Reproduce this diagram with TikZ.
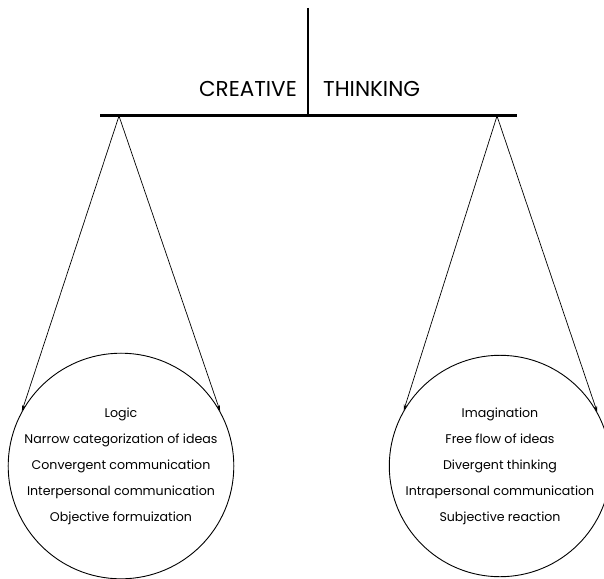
\documentclass[tikz,border=0pt]{standalone}
\usepackage{fontspec}
\setmainfont{Poppins}
\usetikzlibrary{arrows.meta,positioning}

\begin{document}
\begin{tikzpicture}[
    x=1pt, y=-1pt,
    title/.style={font=\fontsize{21.5}{22}\selectfont, inner sep=0pt},
    pan/.style={circle, draw, line width=0.9pt, minimum size=220pt, inner sep=0pt,
                align=center, font=\fontsize{12.6}{26}\selectfont},
    arr/.style={-{Stealth[length=6pt,width=3.5pt]}, line width=0.7pt}
]
\useasboundingbox (0,0) rectangle (604,578);

% beam and post
\coordinate (top) at (308,8);
\coordinate (mid) at (308,115);
\coordinate (bl) at (100,115);
\coordinate (br) at (517,115);
\draw[line width=2.6pt] (top) -- (mid);
\draw[line width=3pt] (bl) -- (br);

\node[title, anchor=base east] (creative) at (297,96) {CREATIVE};
\node[title, anchor=base west] (thinking) at (323,96) {THINKING};

% hanging points
\coordinate (pl) at (119,116);
\coordinate (pr) at (497,116);

% the two pans
\node[pan] (left) at (121,466) {Logic\\Narrow categorization of ideas\\Convergent communication\\Interpersonal communication\\Objective formuization};
\node[pan] (right) at (500,466) {Imagination\\Free flow of ideas\\Divergent thinking\\Intrapersonal communication\\Subjective reaction};

\draw[arr] (pl) -- (left.151);
\draw[arr] (pl) -- (left.29);
\draw[arr] (pr) -- (right.150);
\draw[arr] (pr) -- (right.29);
\end{tikzpicture}
\end{document}
